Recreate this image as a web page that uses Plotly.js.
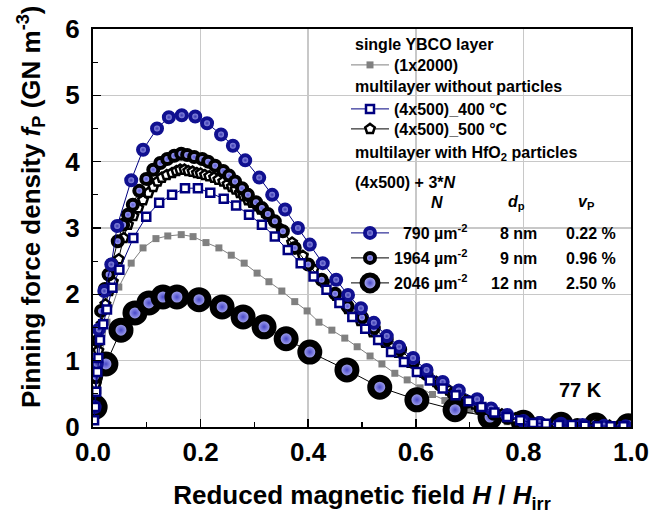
<!DOCTYPE html>
<html><head><meta charset="utf-8">
<script src="https://cdn.plot.ly/plotly-3.0.1.min.js"></script>
<style>body{margin:0;background:#fff}#chart{width:650px;height:522px}</style>
</head><body><div id="chart"></div>
<script>
// ---- data ----
const grayX = [0.003,0.009,0.016,0.026,0.048,0.071,0.093,0.117,0.139,0.164,0.186,0.21,0.234,0.257,0.281,0.305,0.327,0.351,0.375,0.398,0.42,0.444,0.468,0.491,0.515,0.537,0.561,0.584,0.608,0.631,0.654,0.677,0.70,0.724,0.747,0.77,0.794,0.817];
const grayY = [0.12,0.55,1.05,1.58,2.11,2.47,2.70,2.84,2.88,2.90,2.87,2.78,2.70,2.59,2.47,2.32,2.19,2.05,1.89,1.75,1.58,1.46,1.34,1.21,1.07,0.95,0.81,0.71,0.59,0.49,0.40,0.32,0.25,0.18,0.12,0.08,0.05,0.03];

const sq400X = [0.002,0.004,0.006,0.008,0.01,0.013,0.019,0.026,0.036,0.049,0.075,0.099,0.123,0.147,0.171,0.195,0.218,0.243,0.266,0.29,0.314,0.338,0.362,0.386,0.41,0.434,0.458,0.482,0.506,0.53,0.554,0.578,0.602,0.626,0.65,0.674,0.698,0.722,0.746,0.77,0.794,0.818,0.842,0.866,0.89,0.914,0.938,0.962,0.986];
const sq400Y = [0.1,0.3,0.53,0.83,1.04,1.31,1.55,1.77,2.1,2.37,2.85,3.17,3.38,3.50,3.60,3.60,3.53,3.44,3.34,3.20,3.05,2.87,2.67,2.47,2.27,2.07,1.87,1.66,1.48,1.31,1.13,0.98,0.83,0.70,0.58,0.48,0.39,0.30,0.22,0.15,0.1,0.06,0.05,0.03,0.03,0.02,0.01,0.01,0.01];

const pen500X = [0.002,0.005,0.01,0.016,0.023,0.03,0.037,0.048,0.057,0.065,0.075,0.084,0.093,0.103,0.112,0.12,0.128,0.137,0.147,0.155,0.162,0.17,0.177,0.185,0.193,0.2,0.208,0.216,0.225,0.233,0.242,0.25,0.258,0.265,0.273,0.28,0.288,0.296,0.305,0.312,0.32,0.327,0.335,0.35,0.37,0.39,0.41,0.43,0.452,0.474,0.497,0.52,0.543,0.567,0.59,0.614,0.638,0.662,0.686,0.71,0.735,0.76,0.785,0.81,0.835,0.86,0.885,0.91,0.935,0.96,0.985];
const pen500Y = [0.2,0.65,1.15,1.55,1.85,2.05,2.19,2.53,2.85,3.05,3.18,3.3,3.42,3.53,3.62,3.70,3.76,3.80,3.83,3.86,3.88,3.88,3.86,3.85,3.83,3.82,3.80,3.78,3.76,3.73,3.70,3.66,3.62,3.58,3.53,3.48,3.42,3.38,3.33,3.28,3.23,3.17,3.12,2.98,2.78,2.58,2.38,2.18,1.98,1.78,1.6,1.43,1.27,1.12,0.97,0.82,0.68,0.55,0.44,0.34,0.26,0.19,0.13,0.09,0.06,0.05,0.04,0.03,0.02,0.02,0.01];

const n790X = [0.003,0.007,0.011,0.021,0.034,0.045,0.071,0.093,0.119,0.141,0.165,0.19,0.212,0.238,0.260,0.283,0.309,0.333,0.357,0.381,0.403,0.427,0.452,0.474,0.498,0.522,0.546,0.569,0.595,0.62,0.65,0.68,0.714,0.74,0.77,0.80,0.83,0.87,0.91,0.95,0.99];
const n790Y = [0.3,0.95,1.47,2.05,2.45,3.03,3.72,4.18,4.50,4.67,4.70,4.68,4.58,4.41,4.24,4.02,3.76,3.50,3.28,3.0,2.75,2.47,2.22,1.99,1.79,1.57,1.37,1.21,1.04,0.86,0.68,0.55,0.42,0.28,0.18,0.09,0.06,0.05,0.03,0.02,0.01];

const n1964X = [0.002,0.005,0.009,0.015,0.022,0.029,0.035,0.046,0.056,0.065,0.074,0.086,0.099,0.112,0.125,0.138,0.151,0.164,0.175,0.188,0.203,0.214,0.227,0.242,0.253,0.264,0.277,0.288,0.303,0.314,0.325,0.338,0.353,0.375,0.40,0.425,0.45,0.473,0.50,0.522,0.546,0.571,0.595,0.62,0.645,0.67,0.695,0.72,0.745,0.77,0.80,0.83,0.86,0.90,0.94,0.98];
const n1964Y = [0.25,0.75,1.3,1.75,2.08,2.3,2.45,2.8,3.05,3.2,3.35,3.56,3.74,3.88,3.98,4.04,4.09,4.12,4.10,4.07,4.04,4.0,3.94,3.86,3.79,3.70,3.60,3.50,3.39,3.30,3.21,3.10,2.95,2.7,2.45,2.22,2.01,1.82,1.65,1.49,1.32,1.17,0.98,0.8,0.64,0.5,0.38,0.28,0.2,0.14,0.09,0.06,0.05,0.03,0.02,0.01];

const n2046X = [0.004,0.024,0.052,0.078,0.104,0.13,0.156,0.197,0.24,0.279,0.318,0.359,0.403,0.472,0.533,0.602,0.673,0.738,0.80,0.87,0.935,0.995];
const n2046Y = [0.3,0.95,1.46,1.72,1.87,1.96,1.96,1.92,1.81,1.66,1.51,1.33,1.13,0.86,0.60,0.41,0.26,0.15,0.07,0.04,0.03,0.02];

const xTicks = [0,0.2,0.4,0.6,0.8,1.0];
const yTicks = [0,1,2,3,4,5,6];

// ---- style ----
const FONT = 'Liberation Sans, Arial, sans-serif';
const NAVY = '#000080';

const traces = [
  {name:'(1x2000)', x:grayX, y:grayY, mode:'lines+markers', legend:'legend',
   line:{color:'#808080', width:1}, marker:{symbol:'square', size:7, color:'#808080'}},
  {name:'2046 µm<sup>-2</sup>', x:n2046X, y:n2046Y, mode:'lines+markers', legend:'legend6',
   line:{color:'black', width:1}, marker:{symbol:'circle', size:18, color:'#d0d0ff', line:{color:'black', width:7},
   gradient:{type:'radial', color:'#4848c8'}}},
  {name:'(4x500)_500 °C', x:pen500X, y:pen500Y, mode:'lines+markers', legend:'legend3',
   line:{color:'black', width:1}, marker:{symbol:'pentagon', size:10, color:'white', line:{color:'black', width:2.5}}},
  {name:'1964 µm<sup>-2</sup>', x:n1964X, y:n1964Y, mode:'lines+markers', legend:'legend5',
   line:{color:'black', width:1}, marker:{symbol:'circle', size:10, color:'#c8c8ff', line:{color:'black', width:4},
   gradient:{type:'radial', color:'#5a5ad8'}}},
  {name:'\u2007790 µm<sup>-2</sup>', x:n790X, y:n790Y, mode:'lines+markers', legend:'legend4',
   line:{color:NAVY, width:1}, marker:{symbol:'circle', size:10, color:'#c0c0ff', line:{color:'#101090', width:4},
   gradient:{type:'radial', color:'#3838b0'}}},
  {name:'(4x500)_400 °C', x:sq400X, y:sq400Y, mode:'lines+markers', legend:'legend2',
   line:{color:NAVY, width:1}, marker:{symbol:'square', size:8, color:'white', line:{color:NAVY, width:2.5}}}
];

const pxX = p => (p - 93) / 538;
const pxY = p => (427 - p) / 398;
function leg(py){
  return {x:pxX(346), y:pxY(py), xanchor:'left', yanchor:'middle', bgcolor:'rgba(0,0,0,0)',
    borderwidth:0, itemwidth:38, font:{family:FONT, size:16, color:'black', weight:'bold'}};
}

const annFont = {family:FONT, size:16, color:'black', weight:'bold'};
function ann(text, px, py, anchor){
  return {text:text, xref:'paper', yref:'paper', x:pxX(px), y:pxY(py), xanchor:anchor||'left', yanchor:'middle', showarrow:false, font:annFont};
}

const layout = {
  width:650, height:522,
  margin:{l:93, r:19, t:29, b:95},
  paper_bgcolor:'white', plot_bgcolor:'white',
  font:{family:FONT, color:'black'},
  xaxis:{range:[0,1], tickvals:xTicks, ticktext:xTicks.map(v=>v.toFixed(1)), ticks:'inside', ticklen:8, tickwidth:1.5, tickcolor:'black',
    minor:{dtick:0.1, ticks:'inside', ticklen:5, tickwidth:1.2, tickcolor:'black', showgrid:false},
    showline:true, linecolor:'black', linewidth:2, mirror:true, showgrid:true, gridcolor:'#c8c8c8', gridwidth:1.5,
    zeroline:false, tickfont:{family:FONT, size:26, weight:'bold'}, ticklabelstandoff:1,
    title:{text:'Reduced magnetic field <i>H</i> / <i>H</i><sub>irr</sub>', font:{family:FONT, size:26, weight:'bold'}, standoff:20}},
  yaxis:{range:[0,6], tickvals:yTicks, ticks:'inside', ticklen:8, tickwidth:1.5, tickcolor:'black',
    minor:{dtick:0.5, ticks:'inside', ticklen:5, tickwidth:1.2, tickcolor:'black', showgrid:false},
    showline:true, linecolor:'black', linewidth:2, mirror:true, showgrid:true, gridcolor:'#c8c8c8', gridwidth:1.5,
    zeroline:false, tickfont:{family:FONT, size:26, weight:'bold'}, ticklabelstandoff:6},
  showlegend:true,
  legend:leg(65), legend2:leg(109), legend3:leg(129), legend4:leg(233), legend5:leg(258), legend6:leg(283),
  annotations:[
    {text:'Pinning force density <i>f</i><sub>P</sub> (GN m<sup>-3</sup>)', xref:'paper', yref:'paper', x:pxX(31), y:pxY(207),
     xanchor:'center', yanchor:'middle', textangle:-90, showarrow:false, font:{family:FONT, size:26, color:'black', weight:'bold'}},
    ann('single YBCO layer', 353, 45),
    ann('multilayer without particles', 353, 87),
    ann('multilayer with HfO<sub>2</sub> particles', 353, 153),
    ann('(4x500) + 3*<i>N</i>', 353, 182),
    ann('<i>N</i>', 437, 202, 'center'),
    ann('<i>d</i><sub>p</sub>', 516, 202, 'center'),
    ann('<i>v</i><sub>P</sub>', 586, 202, 'center'),
    ann('8 nm', 539, 233, 'right'),
    ann('9 nm', 539, 258, 'right'),
    ann('12 nm', 539, 283, 'right'),
    ann('0.22 %', 618, 233, 'right'),
    ann('0.96 %', 618, 258, 'right'),
    ann('2.50 %', 618, 283, 'right'),
    {text:'77 K', xref:'paper', yref:'paper', x:pxX(580), y:pxY(390), xanchor:'center', yanchor:'middle', showarrow:false,
     font:{family:FONT, size:20, color:'black', weight:'bold'}}
  ]
};

Plotly.newPlot('chart', traces, layout, {displayModeBar:false, staticPlot:true});
</script>
</body></html>
